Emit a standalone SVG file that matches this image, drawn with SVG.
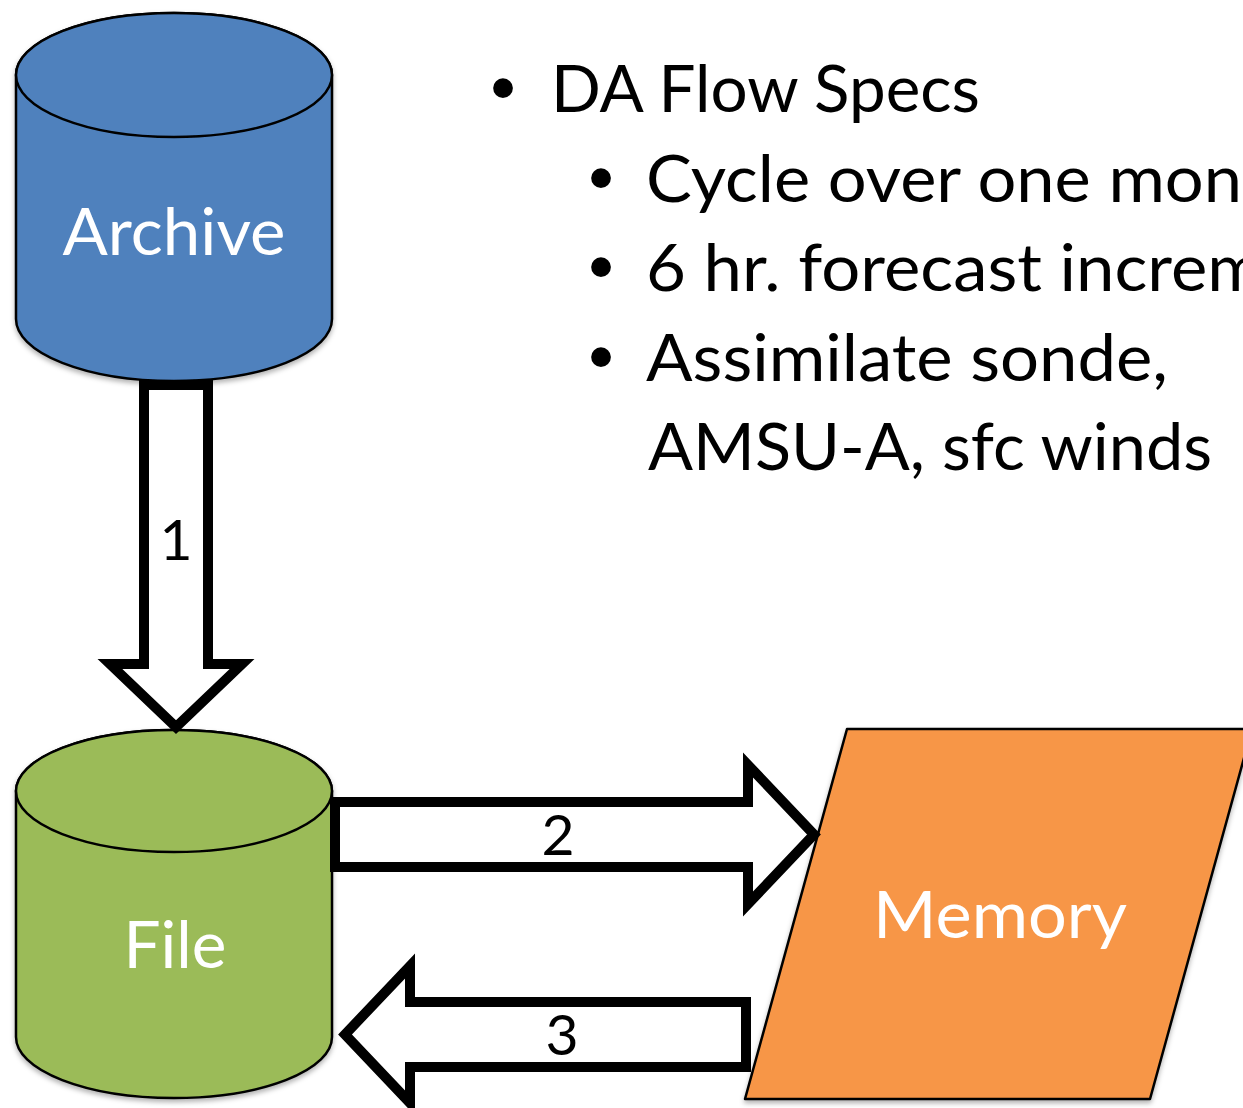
<svg xmlns="http://www.w3.org/2000/svg" width="1243" height="1108" viewBox="0 0 1243 1108">
  <style>
    .txt { font-family: Lato, "Open Sans", "Liberation Sans", sans-serif; }
    .bullet { font-family: "Liberation Sans", Arial, sans-serif; font-size: 73px; fill: #000; }
    .spec { font-size: 66px; fill: #000; }
    .node-label { font-size: 66px; fill: #fff; text-anchor: middle; }
    .step { font-size: 57px; fill: #000; text-anchor: middle; }
    .shape { stroke: #000; stroke-width: 2.5; stroke-linejoin: round; }
    .flow { fill: #fff; stroke: #000; stroke-width: 10; stroke-linejoin: miter; stroke-miterlimit: 10; }
  </style>
  <defs>
    <filter id="soft-shadow" x="-10%" y="-10%" width="120%" height="125%">
      <feDropShadow dx="0" dy="3" stdDeviation="2.5" flood-color="#000" flood-opacity="0.3"/>
    </filter>
  </defs>

  <rect width="1243" height="1108" fill="#fff"/>

  <!-- bullet list -->
  <g id="specs" class="txt">
    <text class="bullet" x="503" y="112" text-anchor="middle">•</text>
    <text class="spec" x="551" y="112" textLength="429" lengthAdjust="spacingAndGlyphs">DA Flow Specs</text>
    <text class="bullet" x="601" y="202" text-anchor="middle">•</text>
    <text class="spec" x="646" y="202" textLength="596" lengthAdjust="spacingAndGlyphs">Cycle over one mon</text>
    <text class="bullet" x="601" y="291" text-anchor="middle">•</text>
    <text class="spec" x="646" y="291" textLength="618" lengthAdjust="spacingAndGlyphs">6 hr. forecast increm</text>
    <text class="bullet" x="601" y="381" text-anchor="middle">•</text>
    <text class="spec" x="646" y="381" textLength="522" lengthAdjust="spacingAndGlyphs">Assimilate sonde,</text>
    <text class="spec" x="648" y="470" textLength="564" lengthAdjust="spacingAndGlyphs">AMSU-A, sfc winds</text>
  </g>

  <!-- Archive store -->
  <g id="archive" filter="url(#soft-shadow)">
    <path class="shape" fill="#4F81BD" d="M16,75 L16,319 A158,62 0 0 0 332,319 L332,75 A158,62 0 0 0 16,75 Z"/>
    <ellipse class="shape" fill="#4F81BD" cx="174" cy="75" rx="158" ry="62"/>
    <text class="txt node-label" x="174" y="255" textLength="223" lengthAdjust="spacingAndGlyphs">Archive</text>
  </g>

  <!-- File store -->
  <g id="file" filter="url(#soft-shadow)">
    <path class="shape" fill="#9BBB59" d="M16,791 L16,1037 A158,61 0 0 0 332,1037 L332,791 A158,61 0 0 0 16,791 Z"/>
    <ellipse class="shape" fill="#9BBB59" cx="174" cy="791" rx="158" ry="61"/>
    <text class="txt node-label" x="175" y="968" textLength="103" lengthAdjust="spacingAndGlyphs">File</text>
  </g>

  <!-- Memory -->
  <g id="memory" filter="url(#soft-shadow)">
    <polygon class="shape" fill="#F79646" points="847,729 1252,729 1150,1099 745,1099"/>
    <text class="txt node-label" x="1000" y="938" textLength="254" lengthAdjust="spacingAndGlyphs">Memory</text>
  </g>

  <!-- block arrows between the stores -->
  <g id="connectors">
    <g id="flow-1">
      <polygon class="flow" points="144,385 208,385 208,664 242,664 176,727 110,664 144,664"/>
      <text class="txt step" x="176" y="560">1</text>
    </g>
    <g id="flow-2">
      <polygon class="flow" points="335,802 748,802 748,765 814,834.5 748,904 748,867 335,867"/>
      <text class="txt step" x="558" y="855">2</text>
    </g>
    <g id="flow-3">
      <polygon class="flow" points="746,1002 410,1002 410,966 345,1034.5 410,1103 410,1067 746,1067"/>
      <text class="txt step" x="562" y="1055">3</text>
    </g>
  </g>
</svg>
